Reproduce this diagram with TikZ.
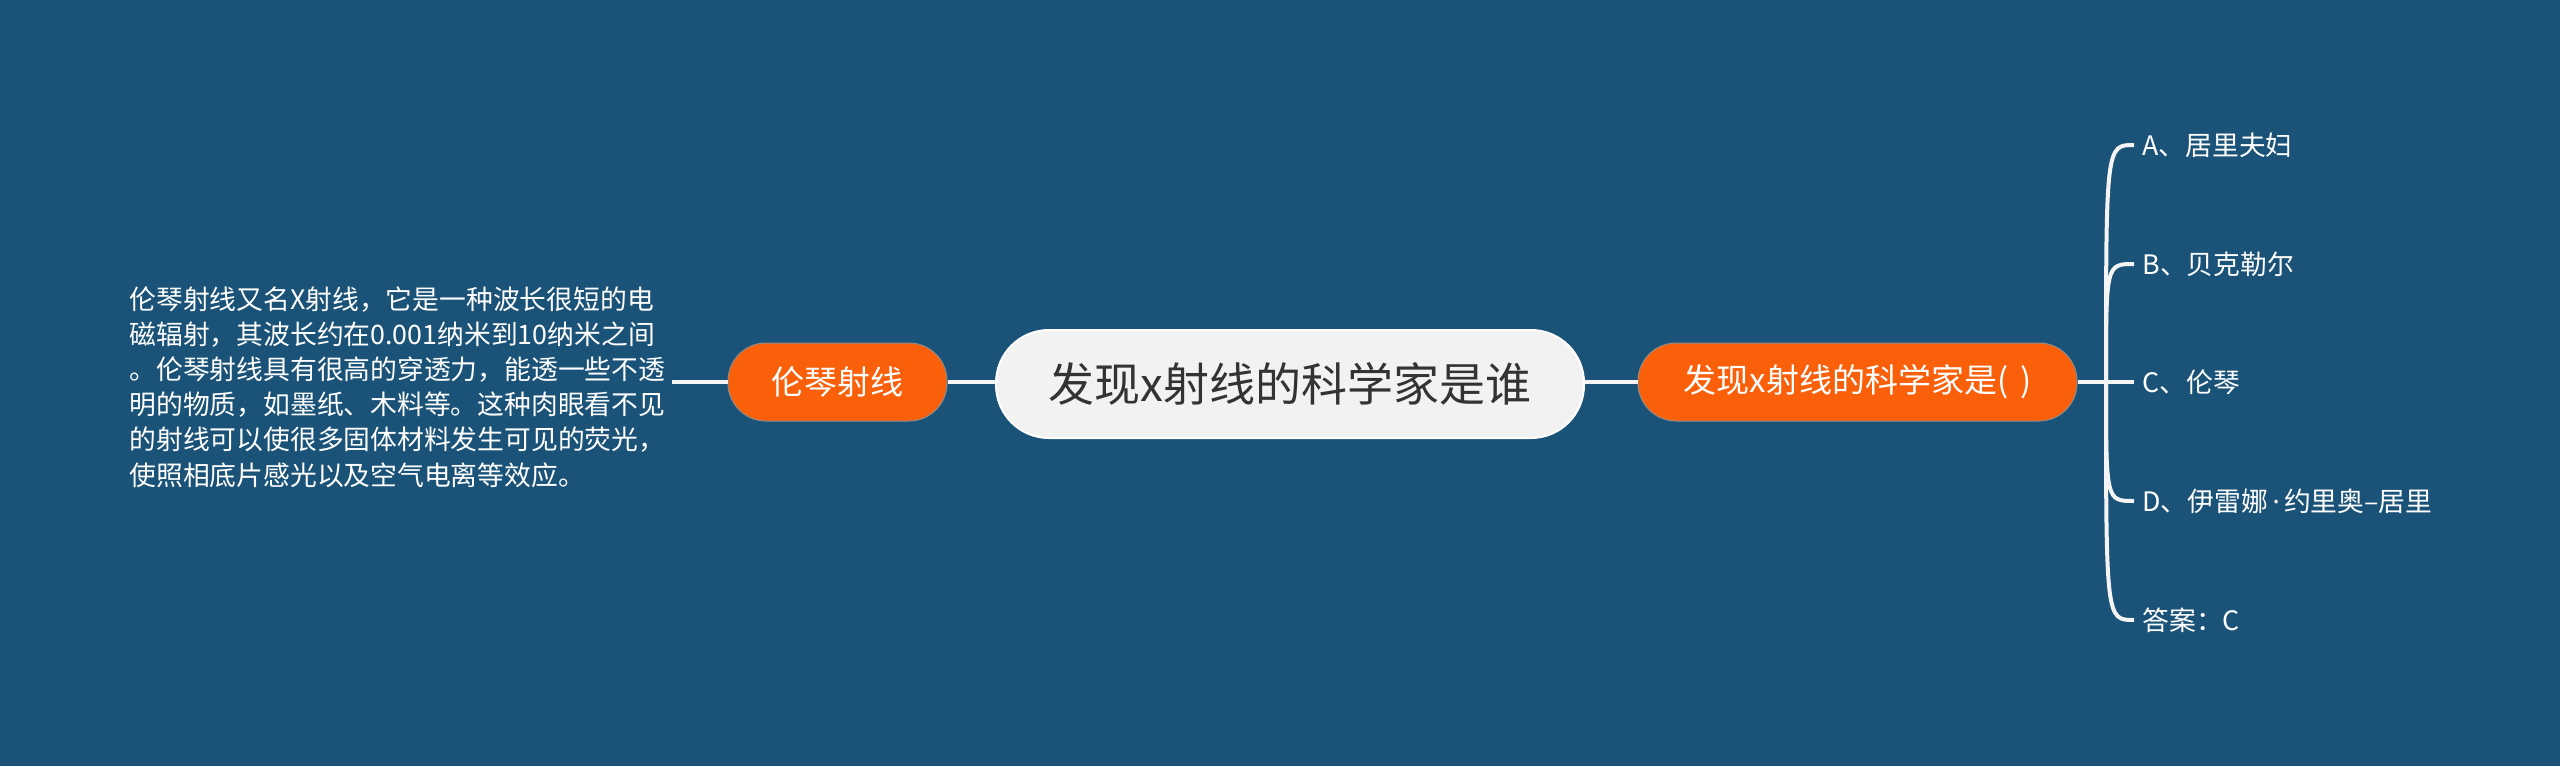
\documentclass[tikz,border=0pt]{standalone}
\usepackage{fontspec}
\setmainfont{Noto Sans CJK SC}
\newfontfamily\latinfont{Noto Sans}
\definecolor{bgblue}{HTML}{1B5378}
\definecolor{orangefill}{HTML}{FA5F0A}
\definecolor{rootfill}{HTML}{F2F2F2}
\definecolor{roottext}{HTML}{333333}
\definecolor{linecol}{HTML}{F4F4F4}
\tikzset{
  rootbox/.style={draw=white, line width=1pt, fill=rootfill, rounded corners=26.5pt,
    minimum width=294pt, minimum height=54pt, inner sep=0pt, text=roottext,
    font=\fontsize{23}{28}\selectfont},
  subbox/.style={draw=black!45, line width=0.5pt, fill=orangefill, rounded corners=19pt,
    minimum height=39pt, inner sep=0pt, text=white, font=\fontsize{16.5}{20}\selectfont},
  desc/.style={text=white, align=left, inner sep=3pt, font=\fontsize{13.4}{17.6}\selectfont},
  item/.style={text=white, inner sep=4pt, font=\fontsize{13.4}{17}\selectfont},
  conn/.style={draw=linecol, line width=2pt},
}
\begin{document}
\begin{tikzpicture}[x=0.5pt,y=-0.5pt]
\useasboundingbox (0,0) rectangle (2560,766);
\fill[bgblue] (0,0) rectangle (2560,766);

\node[rootbox] (root) at (1290,384) {发现x射线的科学家是谁};
\node[subbox, minimum width=109.5pt] (lo) at (837.5,382) {伦琴射线};
\node[subbox, minimum width=219.5pt] (ro) at (1857.5,382) {发现x射线的科学家是(\hspace{0.35em})};

\node[desc, anchor=west] (d) at (123,387) {伦琴射线又名X射线，它是一种波长很短的电\\磁辐射，其波长约在0.001纳米到10纳米之间\\。伦琴射线具有很高的穿透力，能透一些不透\\明的物质，如墨纸、木料等。这种肉眼看不见\\的射线可以使很多固体材料发生可见的荧光，\\使照相底片感光以及空气电离等效应。};

\coordinate (trunk) at (2106,382);
\node[item, anchor=west] (a) at (2134,145) {A、居里夫妇};
\node[item, anchor=west] (b) at (2134,264) {B、贝克勒尔};
\node[item, anchor=west] (c) at (2134,382) {C、伦琴};
\node[item, anchor=west] (dd) at (2134,501) {D、伊雷娜{\latinfont\,·\,}约里奥–居里};
\node[item, anchor=west] (ans) at (2134,620) {答案：C};

\draw[conn] (d.east |- lo.west) -- (lo.west);
\draw[conn] (lo.east) -- (root.west |- lo.east);
\draw[conn] (root.east |- ro.west) -- (ro.west);
\draw[conn] (ro.east) -- (trunk);
\draw[conn] (trunk) -- (c.west);
\foreach \n in {a,b,dd,ans}{
  \draw[conn] (trunk) .. controls (trunk |- \n.west) .. (\n.west);
}
\end{tikzpicture}
\end{document}
